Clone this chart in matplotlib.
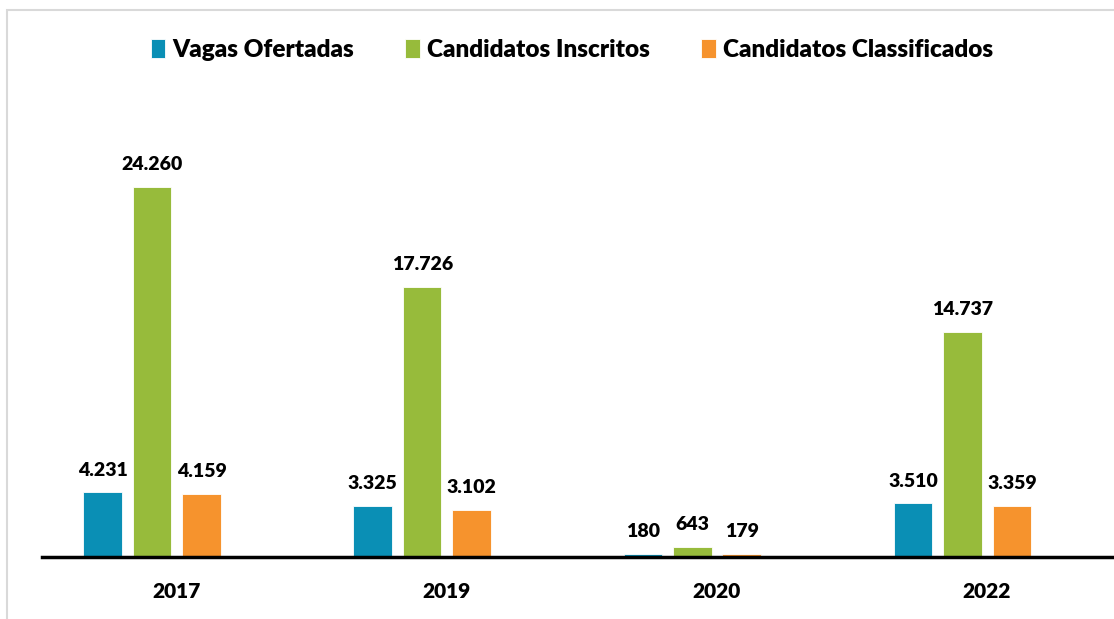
import numpy as np
import matplotlib.pyplot as plt
from matplotlib.patches import Rectangle

plt.rcParams['font.family'] = ['Lato', 'DejaVu Sans']

anos = ['2017', '2019', '2020', '2022']
vagas = [4231, 3325, 180, 3510]
inscritos = [24260, 17726, 643, 14737]
classificados = [4159, 3102, 179, 3359]

series = [
    ('Vagas Ofertadas', vagas, '#0A8FB5'),
    ('Candidatos Inscritos', inscritos, '#97BB3B'),
    ('Candidatos Classificados', classificados, '#F6932D'),
]

def fmt(v):
    return f'{v:,}'.replace(',', '.')

W, H = 1114, 619
fig = plt.figure(figsize=(W / 100, H / 100), dpi=100)
base = 557
ax = fig.add_axes([42 / W, (H - base) / H, 1 - 42 / W, (base - 80) / H])

# borda cinza do quadro
fig.patches.append(Rectangle((7 / W, -0.1), 1.2, (H - 10) / H + 0.1,
                             transform=fig.transFigure, fill=False,
                             edgecolor='#d9d9d9', linewidth=1.5))

x = np.arange(len(anos))
w = 0.1426
off = 0.183
for i, (nome, vals, cor) in enumerate(series):
    pos = x + (i - 1) * off
    bars = ax.bar(pos, vals, w, color=cor, label=nome, edgecolor='white', linewidth=0.6)
    for b, v in zip(bars, vals):
        ax.annotate(fmt(v), (b.get_x() + b.get_width() / 2, v),
                    xytext=(0, 10), textcoords='offset points',
                    ha='center', va='bottom', fontsize=14, fontweight='heavy')

ax.set_xlim(-110 / 270, (1114 - 152.5) / 270)
ax.set_ylim(0, 24260 * (base - 80) / (base - 187))
ax.set_xticks(x + 24 / 270)
ax.set_xticklabels(anos, fontsize=15, fontweight='heavy')
ax.tick_params(axis='x', length=0, pad=18)
ax.set_yticks([])
for s in ['top', 'right', 'left']:
    ax.spines[s].set_visible(False)
ax.spines['bottom'].set_linewidth(2.5)

fig.legend(loc='center', bbox_to_anchor=(572 / W, 1 - 50 / H), ncol=3,
           frameon=False, prop={'size': 17.5, 'weight': 'heavy'},
           handlelength=0.6, handleheight=0.85, handletextpad=0.3, columnspacing=2.1)

fig.savefig('out.png', dpi=100)
